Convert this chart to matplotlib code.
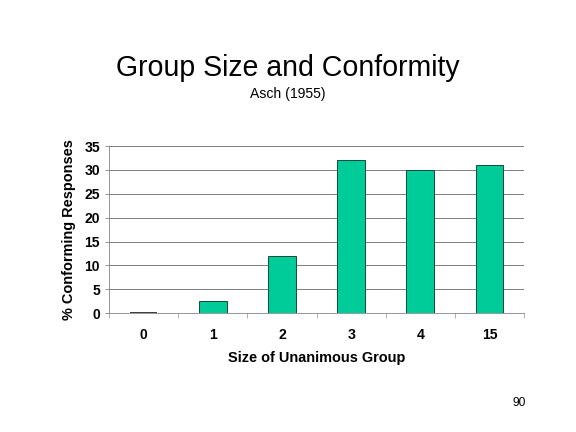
import numpy as np
import matplotlib.pyplot as plt

plt.rcParams['font.family'] = ['Liberation Sans', 'DejaVu Sans']

group_sizes = ["0", "1", "2", "3", "4", "15"]
conforming = [0, 2.5, 12, 32, 30, 31]

fig = plt.figure(figsize=(8, 6), dpi=72)
ax = fig.add_axes([0.189, 0.275, 0.721, 0.387])

x = np.arange(len(group_sizes))
ax.bar(x, conforming, width=0.4, color="#00CC99", edgecolor="#1a4d3a", linewidth=1, zorder=3)
# zero-height bar still shows a line in the original
ax.hlines(0, x[0] - 0.2, x[0] + 0.2, color="black", linewidth=1.5, zorder=4)

ax.set_xlim(-0.5, len(group_sizes) - 0.5)
ax.set_ylim(0, 35)
ax.set_yticks(np.arange(0, 36, 5))
ax.yaxis.grid(True, color="#808080", linewidth=1, zorder=0)

ax.set_xticks(x)
ax.set_xticklabels(group_sizes, fontsize=14, fontweight="bold")
ax.set_xticks(np.arange(-0.5, len(group_sizes)), minor=True)
ax.tick_params(axis="x", which="major", length=0, pad=15)
ax.tick_params(axis="x", which="minor", length=5, color="#808080")
ax.tick_params(axis="y", length=4, color="#808080", labelsize=14, pad=5)
for lbl in ax.get_yticklabels():
    lbl.set_fontweight("bold")

for side in ["top", "right"]:
    ax.spines[side].set_visible(False)
ax.spines["left"].set_color("#808080")
ax.spines["bottom"].set_color("#808080")

ax.set_xlabel("Size of Unanimous Group", fontsize=14.5, fontweight="bold", labelpad=9)
ax.set_ylabel("% Conforming Responses", fontsize=14.5, fontweight="bold", labelpad=8)

fig.text(0.5, 0.842, "Group Size and Conformity", ha="center", va="center", fontsize=28.5)
fig.text(0.5, 0.782, "Asch (1955)", ha="center", va="center", fontsize=14)
fig.text(0.902, 0.068, "90", ha="center", va="center", fontsize=12)

fig.savefig("out.png", dpi=72)
